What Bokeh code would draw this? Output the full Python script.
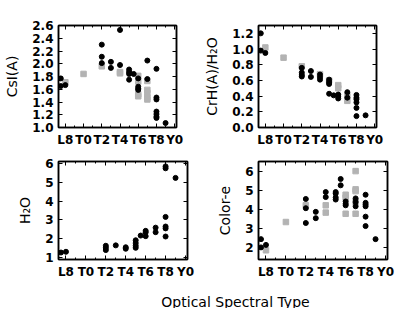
from bokeh.plotting import figure
from bokeh.layouts import column, row
from bokeh.models import FixedTicker, LinearAxis, Label, Range1d, CustomLabelingPolicy
from bokeh.embed import file_html
from bokeh.resources import INLINE

# ---- data ----
spt_ticks = [8, 10, 12, 14, 16, 18, 20]
spt_labels = ["L8", "T0", "T2", "T4", "T6", "T8", "Y0"]

csi_black_x = [7.5, 7.5, 8, 12, 12, 12, 13, 13, 14, 14, 15, 15, 15, 15, 15.5,
               16, 16, 16, 16, 17, 17, 18, 18, 18, 18, 18, 18, 18, 19]
csi_black_y = [1.77, 1.65, 1.665, 2.30, 2.11, 2.01, 2.03, 1.935, 2.53, 1.98, 1.91, 1.87, 1.84, 1.75, 1.84,
               1.77, 1.64, 1.61, 1.59, 2.05, 1.76, 1.92, 1.47, 1.44, 1.25, 1.21, 1.17, 1.15, 1.07]
csi_gray_x = [8, 10, 12, 14, 14, 16, 16, 16, 16, 17, 17, 17, 17, 17]
csi_gray_y = [1.71, 1.84, 1.96, 1.87, 1.85, 1.81, 1.72, 1.52, 1.49, 1.73, 1.59, 1.54, 1.47, 1.44]

crh_black_x = [7.5, 7.5, 8, 12, 12, 12, 12, 13, 13, 14, 14, 14, 15, 15, 15, 15, 15.5,
               16, 16, 16, 17, 17, 18, 18, 18, 18, 18, 18, 19]
crh_black_y = [1.2, 0.98, 0.95, 0.76, 0.70, 0.67, 0.65, 0.72, 0.645, 0.675, 0.64, 0.61, 0.61, 0.58, 0.555, 0.43, 0.41,
               0.42, 0.40, 0.37, 0.45, 0.38, 0.415, 0.38, 0.36, 0.32, 0.25, 0.145, 0.155]
crh_gray_x = [8, 10, 12, 14, 15, 16, 16, 17, 17]
crh_gray_y = [1.02, 0.89, 0.78, 0.68, 0.60, 0.54, 0.50, 0.34, 0.40]

h2o_black_x = [7.5, 8, 12, 12, 12, 13, 14, 14, 15, 15, 15, 15, 15.5, 16, 16, 16,
               17, 17, 18, 18, 18, 18, 18, 18, 19]
h2o_black_y = [1.27, 1.31, 1.63, 1.52, 1.40, 1.65, 1.55, 1.47, 1.92, 1.77, 1.63, 1.52, 2.17, 2.42, 2.34, 2.14,
               2.59, 2.35, 5.84, 5.74, 3.16, 2.65, 2.55, 2.12, 5.23]
h2o_gray_x = []
h2o_gray_y = []

cole_black_x = [7.5, 7.5, 8, 12, 12, 12, 13, 13, 14, 14, 15, 15, 15, 15, 15.5, 15.5,
                16, 16, 16, 17, 17, 17, 18, 18, 18, 18, 18, 18, 19]
cole_black_y = [2.46, 2.03, 2.16, 4.55, 4.07, 3.30, 3.88, 3.55, 4.91, 4.65, 4.91, 4.83, 4.63, 4.52, 5.59, 5.26,
                4.42, 4.30, 4.22, 4.58, 4.39, 4.17, 4.77, 4.35, 4.26, 4.17, 3.63, 3.14, 2.46]
cole_gray_x = [8, 10, 12, 14, 14, 16, 16, 16, 17, 17, 17, 17, 17]
cole_gray_y = [1.88, 3.35, 4.22, 4.22, 3.84, 4.77, 4.62, 3.78, 6.0, 5.05, 4.96, 4.39, 3.78]

x_title = "Optical Spectral Type"

FONT = "DejaVu Sans"
GRAY = "#b3b3b3"


def panel(bx, by, gx, gy, ylabel, yr, yticks, yfmt, top, bottom, height):
    p = figure(width=200, height=height, output_backend="svg", toolbar_location=None,
               x_range=Range1d(7.25, 20.2), y_range=Range1d(*yr),
               min_border_left=58, min_border_right=13,
               min_border_top=top, min_border_bottom=bottom)
    p.xgrid.visible = False
    p.ygrid.visible = False
    p.outline_line_color = "black"
    p.outline_line_width = 1.5
    p.background_fill_color = "white"
    p.border_fill_color = "white"

    xt = FixedTicker(ticks=spt_ticks, minor_ticks=list(range(7, 21)))
    yt = FixedTicker(ticks=yticks, minor_ticks=[])
    xover = {t: l for t, l in zip(spt_ticks, spt_labels)}
    yover = {t: (yfmt % t) for t in yticks}

    # extra axes above and right carrying ticks only
    p.add_layout(LinearAxis(), "above")
    p.add_layout(LinearAxis(), "right")

    for ax in p.xaxis:
        ax.ticker = xt
    for ax in p.yaxis:
        ax.ticker = yt
    for ax in list(p.xaxis) + list(p.yaxis):
        ax.major_tick_in = 4
        ax.major_tick_out = 0
        ax.minor_tick_in = 2
        ax.minor_tick_out = 0
        ax.axis_line_width = 1.5
        ax.axis_line_color = "black"
        ax.major_tick_line_width = 1
        ax.minor_tick_line_width = 1
        ax.major_tick_line_color = "black"
        ax.minor_tick_line_color = "black"
        ax.major_label_text_font = FONT
        ax.major_label_text_font_style = "bold"
        ax.major_label_text_font_size = "12px"
        ax.major_label_text_color = "black"
    for ax in p.above + p.right:
        ax.major_label_policy = CustomLabelingPolicy(code="return new Set()")
        ax.major_label_standoff = 0
    bx_axis = p.below[0]
    bx_axis.major_label_overrides = xover
    bx_axis.major_label_standoff = 5
    ly = p.left[0]
    ly.major_label_overrides = yover
    ly.major_label_standoff = 5
    ly.axis_label = ylabel
    ly.axis_label_text_font = FONT
    ly.axis_label_text_font_style = "normal"
    ly.axis_label_text_font_size = "14px"
    ly.axis_label_text_color = "black"
    ly.axis_label_standoff = 9

    if gx:
        p.scatter(gx, gy, marker="square", size=5.5, color=GRAY, line_color=GRAY)
    p.scatter(bx, by, marker="circle", size=5, color="black")
    return p


p1 = panel(csi_black_x, csi_black_y, csi_gray_x, csi_gray_y, "CsI(A)", (1.0, 2.6),
           [1.0, 1.2, 1.4, 1.6, 1.8, 2.0, 2.2, 2.4, 2.6], "%.1f", 25, 20, 149)
p2 = panel(crh_black_x, crh_black_y, crh_gray_x, crh_gray_y, "CrH(A)/H\u2082O", (0.0, 1.3),
           [0.0, 0.2, 0.4, 0.6, 0.8, 1.0, 1.2], "%.1f", 25, 20, 149)
p3 = panel(h2o_black_x, h2o_black_y, h2o_gray_x, h2o_gray_y, "H\u2082O", (0.9, 6.1),
           [1, 2, 3, 4, 5, 6], "%d", 6, 24, 134)
p4 = panel(cole_black_x, cole_black_y, cole_gray_x, cole_gray_y, "Color-e", (1.4, 6.5),
           [2, 3, 4, 5, 6], "%d", 6, 24, 134)

pt = figure(width=400, height=25, output_backend="svg", toolbar_location=None,
            x_range=Range1d(0, 1), y_range=Range1d(0, 1),
            x_axis_type=None, y_axis_type=None, min_border=0)
pt.outline_line_color = None
pt.xgrid.visible = False
pt.ygrid.visible = False
pt.add_layout(Label(x=235, y=7, x_units="screen", y_units="screen", text=x_title,
                    text_align="center", text_baseline="alphabetic",
                    text_font=FONT, text_font_size="14px", text_color="black"))

layout = column(row(p1, p2), row(p3, p4), pt)

open("out.html", "w").write(file_html(layout, INLINE))
